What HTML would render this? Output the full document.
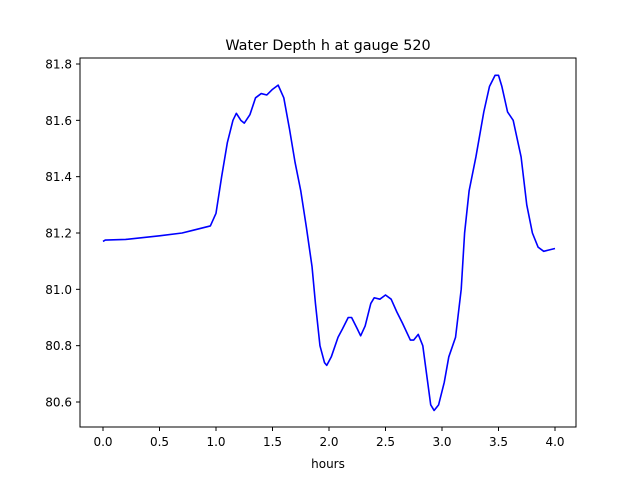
<!DOCTYPE html>
<html><head><meta charset="utf-8"><style>
body{margin:0;background:#fff;}
svg text{font-family:"DejaVu Sans","Liberation Sans",sans-serif;}
</style></head><body>
<svg id="chart" width="640" height="480" xmlns="http://www.w3.org/2000/svg">
<rect width="640" height="480" fill="#fff"/>
<text x="328" y="50" font-size="14.4" text-anchor="middle">Water Depth h at gauge 520</text>
<g id="plot"></g>
<rect x="80" y="58" width="496" height="369" fill="none" stroke="#000" stroke-width="1"/>
<text x="328" y="468" font-size="12" text-anchor="middle">hours</text>
</svg>
<script>
const hours=[0.0,0.02,0.2,0.5,0.7,0.8,0.95,1.0,1.05,1.1,1.15,1.18,1.22,1.25,1.3,1.35,1.4,1.45,1.5,1.55,1.6,1.65,1.7,1.75,1.8,1.85,1.88,1.92,1.96,1.98,2.02,2.08,2.12,2.17,2.2,2.25,2.28,2.32,2.37,2.4,2.45,2.5,2.55,2.6,2.65,2.72,2.75,2.79,2.83,2.87,2.9,2.93,2.97,3.02,3.06,3.12,3.17,3.2,3.24,3.3,3.37,3.42,3.47,3.5,3.53,3.58,3.63,3.7,3.75,3.8,3.85,3.9,3.95,4.0];
const depth=[81.17,81.175,81.177,81.19,81.2,81.21,81.225,81.27,81.4,81.52,81.6,81.625,81.6,81.59,81.62,81.68,81.695,81.69,81.71,81.725,81.68,81.57,81.45,81.35,81.22,81.08,80.95,80.8,80.74,80.73,80.76,80.83,80.86,80.9,80.9,80.86,80.835,80.87,80.95,80.97,80.965,80.98,80.965,80.92,80.88,80.82,80.82,80.84,80.8,80.68,80.59,80.57,80.59,80.67,80.76,80.83,81.0,81.2,81.35,81.47,81.63,81.72,81.76,81.76,81.72,81.63,81.6,81.47,81.3,81.2,81.15,81.135,81.14,81.145];
const xTicks=[0.0,0.5,1.0,1.5,2.0,2.5,3.0,3.5,4.0];
const xTickLabels=["0.0","0.5","1.0","1.5","2.0","2.5","3.0","3.5","4.0"];
const yTicks=[80.6,80.8,81.0,81.2,81.4,81.6,81.8];
const yTickLabels=["80.6","80.8","81.0","81.2","81.4","81.6","81.8"];
const NS="http://www.w3.org/2000/svg";
const xs=v=>103+(v-0)*113;
const ys=v=>402-(v-80.6)*(338/1.2);
const g=document.getElementById('plot');
xTicks.forEach((t,i)=>{
  const l=document.createElementNS(NS,'line');
  
  
  l.setAttribute('x1',xs(t));l.setAttribute('x2',xs(t));l.setAttribute('y1',427);l.setAttribute('y2',431);l.setAttribute('stroke','#000');
  g.appendChild(l);
  const tx=document.createElementNS(NS,'text');
  
  
  tx.setAttribute('x',xs(t));tx.setAttribute('y',446);tx.setAttribute('font-size','12');tx.setAttribute('text-anchor','middle');
  tx.textContent=xTickLabels[i];g.appendChild(tx);
});
yTicks.forEach((t,i)=>{
  const l=document.createElementNS(NS,'line');
  
  
  l.setAttribute('x1',76);l.setAttribute('x2',80);l.setAttribute('y1',ys(t));l.setAttribute('y2',ys(t));l.setAttribute('stroke','#000');
  g.appendChild(l);
  const tx=document.createElementNS(NS,'text');
  
  
  tx.setAttribute('x',72);tx.setAttribute('y',ys(t)+4.5);tx.setAttribute('font-size','12');tx.setAttribute('text-anchor','end');
  tx.textContent=yTickLabels[i];g.appendChild(tx);
});
const p=document.createElementNS(NS,'polyline');


p.setAttribute('points',hours.map((h,i)=>xs(h)+','+ys(depth[i])).join(' '));
p.setAttribute('fill','none');p.setAttribute('stroke','#0000ff');p.setAttribute('stroke-width','1.6');p.setAttribute('stroke-linejoin','round');
g.appendChild(p);
</script>
</body></html>
